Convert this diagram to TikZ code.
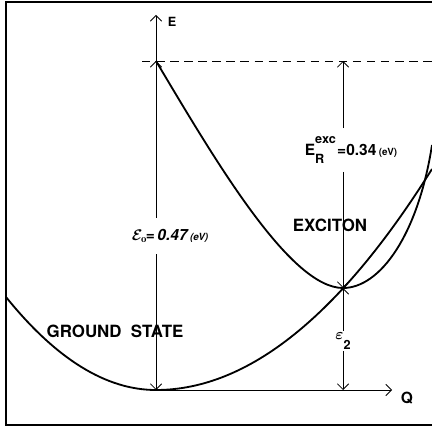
\documentclass[tikz,border=0pt]{standalone}
\usepackage{fontspec}
\setsansfont{TeX Gyre Heros}
\usetikzlibrary{arrows.meta}

\begin{document}
\begin{tikzpicture}[
  x=0.025cm, y=-0.025cm,
  curve/.style={line width=1.3pt},
  frame/.style={line width=1pt},
  arr/.style={line width=0.6pt, -{Straight Barb[length=4pt, width=8pt]}},
  lbl/.style={font=\sffamily\bfseries\boldmath\fontsize{11}{12}\selectfont, inner sep=1pt},
  bigword/.style={font=\sffamily\bfseries\fontsize{12}{14}\selectfont, inner sep=1pt},
]
\useasboundingbox (0,0) rectangle (432,431);

% frame of the figure
\draw[frame] (432,2) -- (6,2) -- (6,425) -- (432,425);

% key points
\coordinate (O) at (156,390);
\coordinate (T) at (156,61);
\coordinate (Etip) at (156,15);
\coordinate (Qtip) at (392,390);
\coordinate (X) at (343,288);
\coordinate (XT) at (343,61);
\coordinate (XB) at (343,390);
\coordinate (D1) at (142,61);
\coordinate (D2) at (432,61);

% potential curves
\draw[curve] (6,297) .. controls (56,359) and (106,390) .. (O)
  .. controls (248,390) and (340,316) .. (432,169);
\draw[curve] (T) .. controls (215,160) and (290,288) .. (X)
  .. controls (380,288) and (418,235) .. (432,145);

% excited level
\draw[line width=0.6pt, dash pattern=on 6pt off 4pt] (D1) -- (D2);

% labels
\node[lbl, font=\sffamily\bfseries\fontsize{9}{10}\selectfont] (Elbl) at (172,22) {E};
\node[lbl] (Qlbl) at (407,398) {Q};
\node[bigword] (exc) at (330,225) {EXCITON};
\node[bigword] (gnd) at (115,331) {GROUND\ \ STATE};
\node[lbl, inner ysep=8pt] (e0) at (170,236)
  {$\mathcal{E}_{\mathrm{o}}$\kern-1pt=\,{\itshape 0.47}\,{\scriptsize\itshape(eV)}};
\node[lbl, inner ysep=6pt] (er) at (351,150)
  {E\raisebox{-0.9ex}{\rlap{\small R}}\raisebox{1.4ex}{\small exc}\kern1pt=0.34\,{\scriptsize(eV)}};
\node[lbl, inner ysep=1pt] (e2) at (343,341) {$\varepsilon$\raisebox{-1.2ex}{\small 2}};

% axes
\draw[arr] (T) -- (Etip);
\draw[arr] (O) -- (Qtip);

% energy differences
\draw[arr] (T |- e0.north) -- (T);
\draw[arr] (T |- e0.south) -- (O);
\draw[arr] (XT |- er.north) -- (XT);
\draw[arr] (XT |- er.south) -- (X);
\draw[arr] (X |- e2.north) -- (X);
\draw[arr] (X |- e2.south) -- (XB);
\end{tikzpicture}
\end{document}
